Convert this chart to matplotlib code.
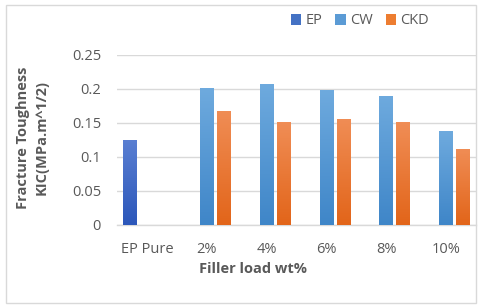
import matplotlib
matplotlib.use("Agg")
import matplotlib.pyplot as plt
import numpy as np
from matplotlib.colors import LinearSegmentedColormap
from matplotlib.patches import Patch, Rectangle

categories = ["EP Pure", "2%", "4%", "6%", "8%", "10%"]
series_names = ["EP", "CW", "CKD"]
ep_values = [0.125, 0, 0, 0, 0, 0]
cw_values = [0, 0.201, 0.207, 0.198, 0.190, 0.138]
ckd_values = [0, 0.168, 0.151, 0.156, 0.151, 0.112]
yticks = [0, 0.05, 0.1, 0.15, 0.2, 0.25]
ytick_labels = ["0", "0.05", "0.1", "0.15", "0.2", "0.25"]

base_colors = ["#4472C4", "#5B9BD5", "#ED7D31"]
grad = [("#2c57ba", "#5a7fd2"), ("#3f86c8", "#6eaade"), ("#e2651a", "#f08d55")]

plt.rcParams['font.family'] = ['Open Sans', 'DejaVu Sans']
txt = "#595959"

fig = plt.figure(figsize=(4.8, 3.06), dpi=100)
ax = fig.add_axes([117/480, 1-225/306, (476-117)/480, (225-55)/306])

x = np.arange(len(categories))
offsets = [-0.285, 0, 0.285]
width = 0.23
all_vals = [ep_values, cw_values, ckd_values]
for j, vals in enumerate(all_vals):
    bars = ax.bar(x + offsets[j], vals, width, color=base_colors[j], zorder=2,
                  edgecolor="#ffffff", linewidth=0.0)
    cmap = LinearSegmentedColormap.from_list("g%d" % j, [grad[j][0], grad[j][1]])
    for b in bars:
        h = b.get_height()
        if h <= 0:
            continue
        x0 = b.get_x()
        im = ax.imshow(np.linspace(0, 1, 64).reshape(-1, 1), cmap=cmap, origin="lower",
                       extent=[x0, x0 + b.get_width(), 0, h], aspect="auto", zorder=3)
        im.set_clip_path(b)

ax.set_xlim(-0.5, len(categories) - 0.5)
ax.set_ylim(0, 0.25)
ax.set_yticks(yticks)
ax.set_yticklabels(ytick_labels)
ax.set_xticks(x)
ax.set_xticklabels(categories)
ax.tick_params(axis='both', length=0, labelsize=10.5, colors=txt)
ax.tick_params(axis='y', pad=11.5)
ax.tick_params(axis='x', pad=12)
ax.yaxis.grid(True, color="#d9d9d9", linewidth=1, zorder=0)
ax.set_axisbelow(True)
for s in ["top", "right", "left"]:
    ax.spines[s].set_visible(False)
ax.spines["bottom"].set_color("#d9d9d9")
ax.spines["bottom"].set_linewidth(1)

fig.text(253/480, 1-269/306, "Filler load wt%", ha="center", va="center",
         fontsize=10.5, fontweight="bold", color=txt)
fig.text(32/480, 1-138/306, "Fracture Toughness\nKIC(MPa.m^1/2)", ha="center", va="center",
         rotation=90, fontsize=10.5, fontweight="bold", color=txt, linespacing=1.4)

handles = [Patch(facecolor=c, edgecolor="none") for c in base_colors]
fig.legend(handles, series_names, loc="center", bbox_to_anchor=(360/480, 1-21/306),
           ncol=3, frameon=False, fontsize=10.5, labelcolor=txt, handlelength=0.7,
           handleheight=0.7, handletextpad=0.3, columnspacing=0.9)

fig.patches.append(Rectangle((6/480, 3/306), 470/480, 298/306, transform=fig.transFigure,
                             fill=False, edgecolor="#d9d9d9", linewidth=1))

fig.savefig("out.png", dpi=100)
